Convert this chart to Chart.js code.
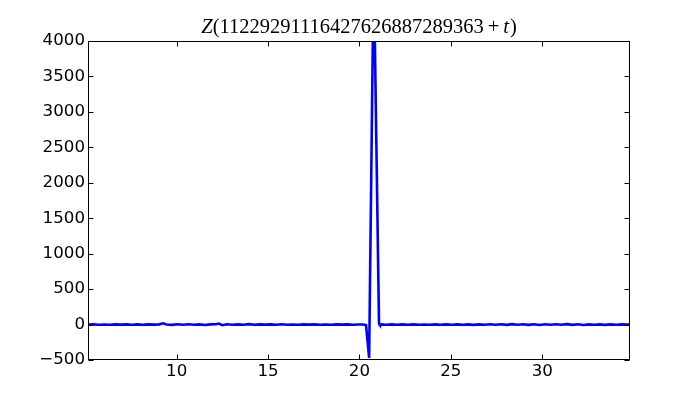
<!DOCTYPE html>
<html>
<head>
<meta charset="utf-8">
<script src="https://cdn.jsdelivr.net/npm/chart.js@4"></script>
<style>
  body { margin: 0; background: #fff; }
  canvas { display: block; }
</style>
</head>
<body>
<canvas id="grafico" width="700" height="400"></canvas>
<script>
// valores
const ts = [
  5.15, 5.45, 5.75, 6.05, 6.35, 6.65, 6.95, 7.25, 7.55, 7.85,
  8.15, 8.45, 8.75, 9.05, 9.25, 9.45, 9.75, 10.05, 10.35, 10.65,
  10.95, 11.25, 11.55, 11.85, 12.15, 12.3, 12.5, 12.75, 13.05, 13.35,
  13.65, 13.95, 14.25, 14.55, 14.85, 15.15, 15.45, 15.75, 16.05, 16.35,
  16.65, 16.95, 17.25, 17.55, 17.85, 18.15, 18.45, 18.75, 19.05, 19.35,
  19.65, 19.95, 20.2, 20.36, 20.53, 20.78, 21.07, 21.12, 21.2, 21.45,
  21.75, 22.05, 22.35, 22.65, 22.95, 23.25, 23.55, 23.85, 24.15, 24.45,
  24.75, 25.05, 25.35, 25.65, 25.95, 26.25, 26.55, 26.85, 27.15, 27.45,
  27.75, 28.05, 28.35, 28.65, 28.95, 29.25, 29.55, 29.85, 30.15, 30.45,
  30.75, 31.05, 31.35, 31.65, 31.95, 32.25, 32.55, 32.85, 33.15, 33.45,
  33.75, 34.05, 34.35, 34.65, 34.8
];
const zs = [
  0, 2, -2, 1, -2, 2, -1, 2, -2, 2,
  -2, 2, -1, 3, 18, 1, -4, 5, -3, 4,
  -2, 3, -7, 2, 5, 14, -9, 4, -2, 2,
  -3, 6, -2, 2, -1, 3, -2, 4, -2, 1,
  -2, 2, -1, 2, -2, 1, -3, 2, -1, 2,
  -2, 1, 0, -8, -470, 5100, 15, -4, 2, -2,
  2, -3, 2, -2, 3, -2, 1, -3, 2, -2,
  3, -2, 2, -3, 2, -4, 3, -2, 4, -3,
  5, -4, 6, -3, 4, -5, 5, -6, 4, -3,
  5, -3, 6, -4, 4, -6, 3, -2, 3, -4,
  2, -2, 3, -1, 1
];
const xTicks = [10, 15, 20, 25, 30];
const yTicks = [-500, 0, 500, 1000, 1500, 2000, 2500, 3000, 3500, 4000];
const titulo = ["Z", "(11229291116427626887289363", "+", "t", ")"];

const fonteEixo = { family: "DejaVu Sans", size: 16.67 };

// moldura e ticks para dentro (estilo matplotlib)
const moldura = {
  id: "moldura",
  afterDatasetsDraw(chart) {
    const { ctx, chartArea: a, scales } = chart;
    const l = Math.round(a.left) + 0.5, r = Math.round(a.right) - 0.5;
    const t = Math.round(a.top) + 0.5, b = Math.round(a.bottom) - 0.5;
    ctx.save();
    ctx.strokeStyle = "#000";
    ctx.lineWidth = 1;
    ctx.strokeRect(l, t, r - l, b - t);
    ctx.beginPath();
    xTicks.forEach(v => {
      const x = Math.round(scales.x.getPixelForValue(v)) + 0.5;
      ctx.moveTo(x, b); ctx.lineTo(x, b - 5);
      ctx.moveTo(x, t); ctx.lineTo(x, t + 5);
    });
    yTicks.forEach(v => {
      const y = Math.round(scales.y.getPixelForValue(v)) + 0.5;
      ctx.moveTo(l, y); ctx.lineTo(l + 5, y);
      ctx.moveTo(r, y); ctx.lineTo(r - 5, y);
    });
    ctx.stroke();

    // título com Z e t em itálico, espaço em volta do +
    const partes = [
      { s: titulo[0], it: true, gap: 0 },
      { s: titulo[1], it: false, gap: 4 },
      { s: titulo[2], it: false, gap: 4 },
      { s: titulo[3], it: true, gap: 1 },
      { s: titulo[4], it: false, gap: 0 }
    ];
    const tam = 20.5;
    let total = 0;
    partes.forEach(p => {
      ctx.font = (p.it ? "italic " : "") + tam + "px 'Liberation Serif'";
      p.w = ctx.measureText(p.s).width;
      total += p.w + p.gap;
    });
    let x = (a.left + a.right) / 2 - total / 2;
    ctx.fillStyle = "#000";
    ctx.textBaseline = "alphabetic";
    ctx.textAlign = "left";
    partes.forEach(p => {
      ctx.font = (p.it ? "italic " : "") + tam + "px 'Liberation Serif'";
      ctx.fillText(p.s, x, 32.5);
      x += p.w + p.gap;
    });
    ctx.restore();
  }
};

new Chart(document.getElementById("grafico"), {
  type: "line",
  data: {
    datasets: [{
      data: ts.map((t, i) => ({ x: t, y: zs[i] })),
      borderColor: "#0000ff",
      borderWidth: 2.6,
      pointRadius: 0,
      fill: false,
      tension: 0
    }]
  },
  options: {
    responsive: false,
    animation: false,
    layout: { padding: { left: 0, right: 70, top: 41, bottom: 0 } },
    plugins: { legend: { display: false }, title: { display: false }, tooltip: { enabled: false } },
    scales: {
      x: {
        type: "linear",
        min: 5.15,
        max: 34.8,
        grid: { display: false, drawTicks: false },
        border: { display: false },
        afterBuildTicks: s => { s.ticks = xTicks.map(v => ({ value: v })); },
        afterFit: s => { s.height = 40; },
        ticks: { color: "#000", font: fonteEixo, padding: 2, maxRotation: 0, autoSkip: false }
      },
      y: {
        min: -500,
        max: 4000,
        grid: { display: false, drawTicks: false },
        border: { display: false },
        afterBuildTicks: s => { s.ticks = yTicks.map(v => ({ value: v })); },
        afterFit: s => { s.width = 88; },
        ticks: { color: "#000", font: fonteEixo, padding: 3, autoSkip: false,
          callback: v => v < 0 ? "\u2212" + Math.abs(v) : String(v) }
      }
    }
  },
  plugins: [moldura]
});
</script>
</body>
</html>
